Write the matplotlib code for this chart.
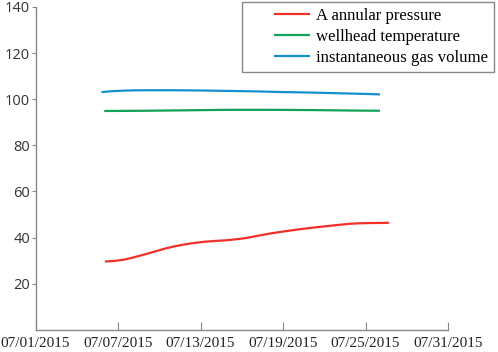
import numpy as np
import matplotlib
matplotlib.use("Agg")
import matplotlib.pyplot as plt
import matplotlib.dates as mdates
from matplotlib.legend_handler import HandlerLine2D
import datetime as dt

start_date = dt.datetime(2015, 7, 1)
tick_dates = ["07/01/2015", "07/07/2015", "07/13/2015", "07/19/2015", "07/25/2015", "07/31/2015"]
y_ticks = [20, 40, 60, 80, 100, 120, 140]

# day offsets from 07/01/2015 and values
pressure_days = [5.05, 5.8, 6.5, 7.2, 8.0, 8.7, 9.4, 10.1, 10.9, 11.6, 12.3, 13.0, 13.8, 14.5, 15.2,
                 16.1, 17.1, 18.1, 19.2, 20.3, 21.4, 22.2, 22.9, 23.6, 24.3, 25.0, 25.7]
pressure_vals = [29.6, 29.9, 30.5, 31.5, 32.8, 34.0, 35.2, 36.2, 37.1, 37.7, 38.2, 38.5, 38.8, 39.2, 39.7,
                 40.7, 41.8, 42.7, 43.6, 44.4, 45.1, 45.6, 46.0, 46.2, 46.3, 46.35, 46.4]

temp_days = [5.0, 8.0, 11.0, 14.0, 17.0, 20.0, 23.0, 25.05]
temp_vals = [94.9, 95.0, 95.2, 95.4, 95.4, 95.3, 95.1, 95.0]

gas_days = [4.8, 5.6, 6.5, 7.2, 8.0, 10.0, 12.0, 14.0, 16.0, 18.0, 20.0, 22.0, 24.0, 25.05]
gas_vals = [103.1, 103.5, 103.75, 103.85, 103.9, 103.9, 103.8, 103.6, 103.4, 103.1, 102.9, 102.6, 102.3, 102.1]

labels = ["A annular pressure", "wellhead temperature", "instantaneous gas volume"]
colors = ["#f2302a", "#12a25a", "#1390d0"]


class RightLineHandler(HandlerLine2D):
    def get_xdata(self, legend, xdescent, ydescent, width, height, fontsize):
        x0 = -xdescent + width * 0.42
        x1 = -xdescent + width
        return np.array([x0, x1]), np.array([x0, x1])


base = mdates.date2num(start_date)

fig = plt.figure(figsize=(4.98, 3.52), dpi=100)
ax = fig.add_axes([35.5/498, 22.2/352, (448-35.5)/498, (329.8-7)/352])

lines = []
for d, v, c, l in zip([pressure_days, temp_days, gas_days],
                      [pressure_vals, temp_vals, gas_vals], colors, labels):
    ln, = ax.plot(base + np.array(d), v, color=c, lw=1.6, label=l, solid_capstyle="butt")
    lines.append(ln)

ticks = [mdates.date2num(dt.datetime.strptime(t, "%m/%d/%Y")) for t in tick_dates]
ax.set_xlim(ticks[0], ticks[-1])
ax.set_ylim(0, 140)
ax.set_xticks(ticks)
ax.set_xticklabels(tick_dates, family="Liberation Serif", fontsize=11, color="#222222")
ax.set_yticks(y_ticks)
ax.set_yticklabels([str(t) for t in y_ticks], family="Open Sans", fontsize=10.5, color="#333333")

for s in ["top", "right"]:
    ax.spines[s].set_visible(False)
for s in ["left", "bottom"]:
    ax.spines[s].set_color("#888888")
    ax.spines[s].set_linewidth(1.0)
ax.tick_params(axis="x", direction="in", length=6, color="#888888", pad=5)
ax.tick_params(axis="y", direction="out", length=3, color="#888888", pad=1)

leg = fig.legend(handles=lines, loc="upper left", bbox_to_anchor=(242/498, 1 - 2/352),
                 bbox_transform=fig.transFigure,
                 prop={"family": "Liberation Serif", "size": 12.1}, frameon=True, fancybox=False,
                 edgecolor="#888888", framealpha=1, handlelength=3.7, handletextpad=0.35,
                 labelspacing=0.3, borderpad=0.35, borderaxespad=0,
                 handler_map={matplotlib.lines.Line2D: RightLineHandler()})
leg.get_frame().set_linewidth(1.0)

fig.savefig("out.png", dpi=100)
